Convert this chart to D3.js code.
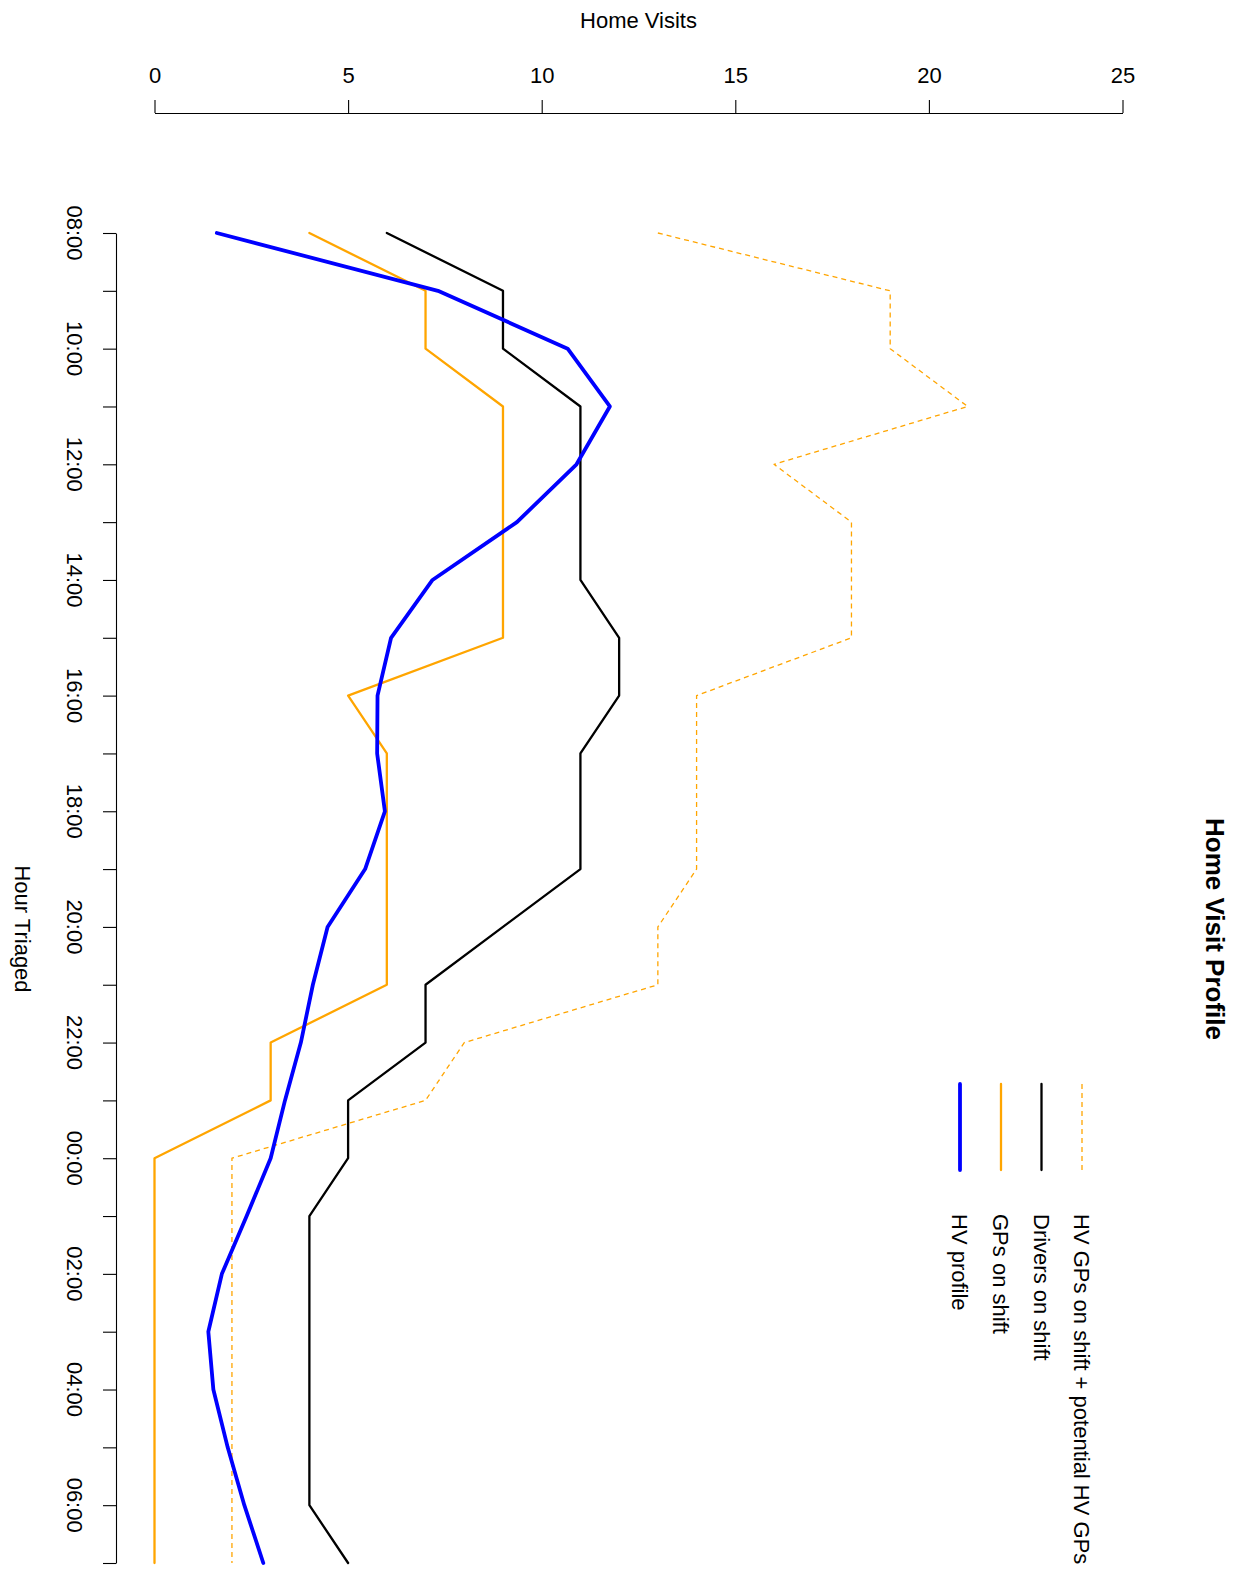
<!DOCTYPE html>
<html>
<head>
<meta charset="utf-8">
<script src="https://cdn.jsdelivr.net/npm/d3@7"></script>
<style>
  html, body { margin: 0; padding: 0; background: #fff; }
  svg { display: block; font-family: "Liberation Sans", Arial, Helvetica, sans-serif; }
</style>
</head>
<body>
<svg id="chart" width="1240" height="1573"></svg>
<script>
// ---- Data ----
const hours = ["08:00","09:00","10:00","11:00","12:00","13:00","14:00","15:00","16:00","17:00","18:00","19:00",
               "20:00","21:00","22:00","23:00","00:00","01:00","02:00","03:00","04:00","05:00","06:00","07:00"];
const hourLabels = ["08:00","10:00","12:00","14:00","16:00","18:00","20:00","22:00","00:00","02:00","04:00","06:00"];
const visitTicks = [0, 5, 10, 15, 20, 25];

const hvProfile   = [1.61, 7.32, 10.67, 11.76, 10.90, 9.36, 7.18, 6.11, 5.76, 5.75, 5.95, 5.44,
                     4.47, 4.09, 3.78, 3.37, 3.00, 2.38, 1.74, 1.39, 1.52, 1.89, 2.32, 2.81];
const gpsOnShift  = [4, 7, 7, 9, 9, 9, 9, 9, 5, 6, 6, 6, 6, 6, 3, 3, 0, 0, 0, 0, 0, 0, 0, 0];
const driversOnShift = [6, 9, 9, 11, 11, 11, 11, 12, 12, 11, 11, 11, 9, 7, 7, 5, 5, 4, 4, 4, 4, 4, 4, 5];
const gpsPotential = [13, 19, 19, 21, 16, 18, 18, 18, 14, 14, 14, 14, 13, 13, 8, 7, 2, 2, 2, 2, 2, 2, 2, 2];

const seriesNames = ["HV GPs on shift + potential HV GPs", "Drivers on shift", "GPs on shift", "HV profile"];

// ---- Setup ----
const svg = d3.select("#chart");
const FS = 22;

const x = d3.scaleLinear().domain([0, 25]).range([154.5, 1122.5]);
const y = d3.scalePoint().domain(hours).range([233, 1563]);

// Top axis (Home Visits)
const topAxis = svg.append("g")
  .attr("transform", "translate(0,113)")
  .call(d3.axisTop(x).tickValues(visitTicks).tickSize(13).tickSizeOuter(0).tickPadding(17).tickFormat(d3.format("d")));
topAxis.selectAll("path, line").attr("stroke", "#000").attr("stroke-width", 1.1);
topAxis.selectAll("text").attr("font-size", FS).attr("fill", "#000").attr("font-family", "Liberation Sans, Arial, sans-serif");

svg.append("text")
  .attr("x", 638.5).attr("y", 28)
  .attr("text-anchor", "middle")
  .attr("font-size", FS)
  .text("Home Visits");

// Left axis (Hour Triaged)
const leftAxis = svg.append("g")
  .attr("transform", "translate(116,0)")
  .call(d3.axisLeft(y).tickSize(13).tickSizeOuter(0).tickFormat(""));
leftAxis.selectAll("path, line").attr("stroke", "#000").attr("stroke-width", 1.1);
leftAxis.selectAll("text").remove();

svg.append("g").selectAll("text")
  .data(hourLabels)
  .join("text")
  .attr("transform", d => `translate(75,${y(d)}) rotate(90)`)
  .attr("text-anchor", "middle")
  .attr("dy", "0.35em")
  .attr("font-size", FS)
  .text(d => d);

svg.append("text")
  .attr("transform", "translate(23,929) rotate(90)")
  .attr("text-anchor", "middle")
  .attr("dy", "0.35em")
  .attr("font-size", FS)
  .text("Hour Triaged");

// Title
svg.append("text")
  .attr("transform", "translate(1215,929) rotate(90)")
  .attr("text-anchor", "middle")
  .attr("dy", "0.35em")
  .attr("font-size", 26)
  .attr("font-weight", "bold")
  .text("Home Visit Profile");

// ---- Lines ----
const line = d3.line().x(d => x(d[1])).y(d => y(d[0]));
const toPts = vals => hours.map((h, i) => [h, vals[i]]);

const styles = [
  { vals: gpsPotential,   color: "#FFA500", width: 1.3,  dash: "5,4" },
  { vals: driversOnShift, color: "#000000", width: 2.3,  dash: null },
  { vals: gpsOnShift,     color: "#FFA500", width: 2.3,  dash: null },
  { vals: hvProfile,      color: "#0000FF", width: 3.8,  dash: null }
];

const lines = svg.append("g");
styles.forEach(s => {
  lines.append("path")
    .datum(toPts(s.vals))
    .attr("d", line)
    .attr("fill", "none")
    .attr("stroke", s.color)
    .attr("stroke-width", s.width)
    .attr("stroke-linejoin", "round")
    .attr("stroke-linecap", s.dash ? "butt" : "round")
    .attr("stroke-dasharray", s.dash);
});

// ---- Legend ----
const legX = [1082, 1041.5, 1001, 960];
const leg = svg.append("g");
styles.forEach((s, i) => {
  leg.append("line")
    .attr("x1", legX[i]).attr("x2", legX[i])
    .attr("y1", 1084).attr("y2", 1170)
    .attr("stroke", s.color)
    .attr("stroke-width", s.width)
    .attr("stroke-linecap", s.dash ? "butt" : "round")
    .attr("stroke-dasharray", s.dash);
  leg.append("text")
    .attr("transform", `translate(${legX[i]},1214) rotate(90)`)
    .attr("text-anchor", "start")
    .attr("dy", "0.35em")
    .attr("font-size", FS)
    .text(seriesNames[i]);
});
</script>
</body>
</html>
